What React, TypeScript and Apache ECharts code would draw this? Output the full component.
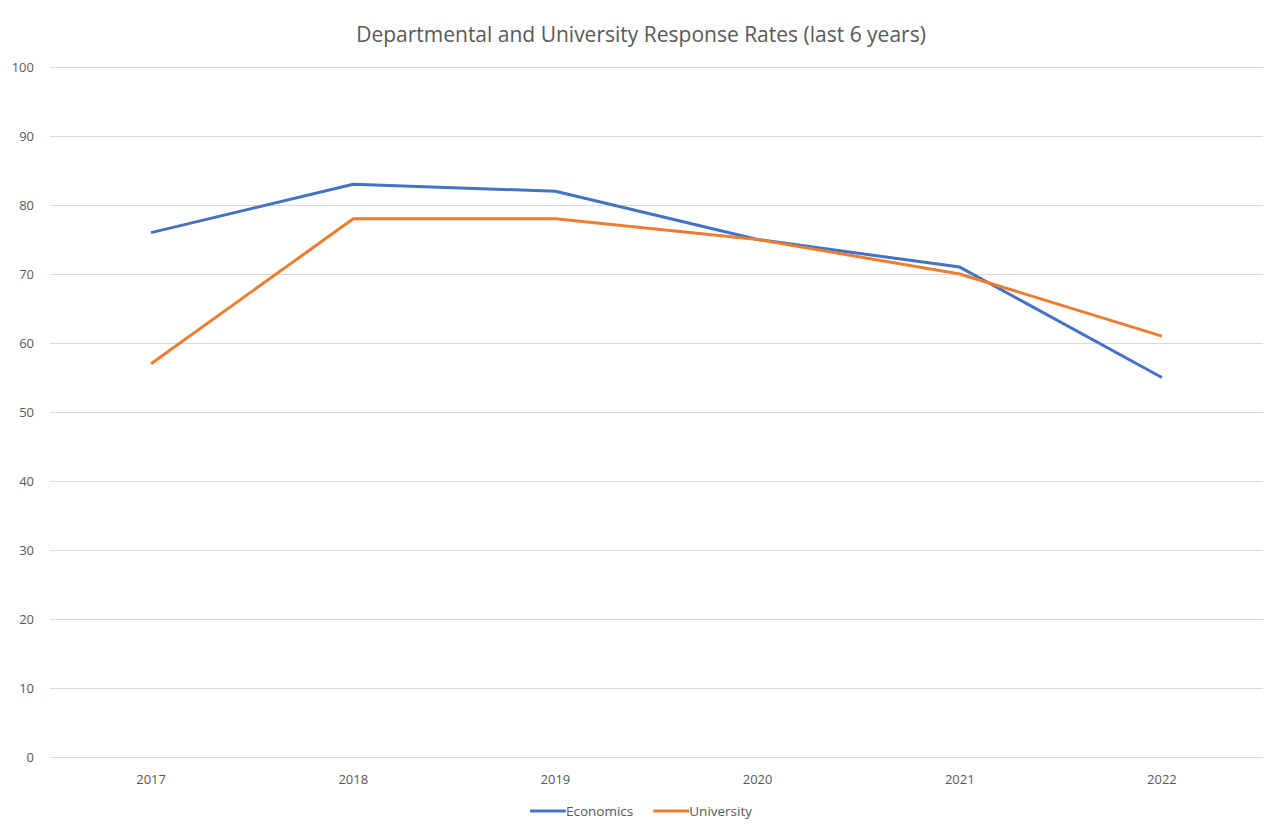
import React, { useEffect, useRef } from "react";
import * as echarts from "echarts";

const years = ["2017", "2018", "2019", "2020", "2021", "2022"];
const economics = [76, 83, 82, 75, 71, 55];
const university = [57, 78, 78, 75, 70, 61];

export default function App() {
  const ref = useRef<HTMLDivElement>(null);
  useEffect(() => {
    document.body.style.margin = "0";
    const chart = echarts.init(ref.current!, undefined, { renderer: "svg" });
    const font = "'Open Sans', 'Noto Sans', sans-serif";
    chart.setOption({
      animation: false,
      backgroundColor: "#ffffff",
      title: {
        text: "Departmental and University Response Rates (last 6 years)",
        left: "center",
        top: 18,
        textStyle: { fontSize: 21, fontWeight: "normal", color: "#595959", fontFamily: font },
      },
      grid: { left: 50, right: 19, top: 67, bottom: 80, containLabel: false },
      legend: {
        bottom: 14,
        left: "center",
        itemWidth: 36,
        itemHeight: 3,
        itemGap: 20,
        icon: "roundRect",
        textStyle: { fontSize: 13.5, color: "#595959", fontFamily: font, padding: [0, 0, 0, -5] },
        data: ["Economics", "University"],
      },
      xAxis: {
        type: "category",
        data: years,
        boundaryGap: true,
        axisLine: { show: false },
        axisTick: { show: false },
        axisLabel: { color: "#595959", fontSize: 13, fontFamily: font, margin: 15 },
      },
      yAxis: {
        type: "value",
        min: 0,
        max: 100,
        interval: 10,
        axisLine: { show: false },
        axisTick: { show: false },
        axisLabel: { color: "#595959", fontSize: 13, fontFamily: font, margin: 16 },
        splitLine: { lineStyle: { color: "#d9d9d9", width: 1 } },
      },
      series: [
        {
          name: "Economics",
          type: "line",
          data: economics,
          symbol: "none",
          lineStyle: { color: "#4472C4", width: 3 },
          itemStyle: { color: "#4472C4" },
        },
        {
          name: "University",
          type: "line",
          data: university,
          symbol: "none",
          lineStyle: { color: "#ED7D31", width: 3 },
          itemStyle: { color: "#ED7D31" },
        },
      ],
    });
    return () => chart.dispose();
  }, []);
  return (
    <div
      style={{
        position: "absolute",
        left: 0,
        top: 2,
        width: 1280,
        height: 834,
        border: "1px solid #d9d9d9",
        boxSizing: "content-box",
      }}
    >
      <div ref={ref} style={{ position: "absolute", left: -1, top: -3, width: 1282, height: 837 }} />
    </div>
  );
}
